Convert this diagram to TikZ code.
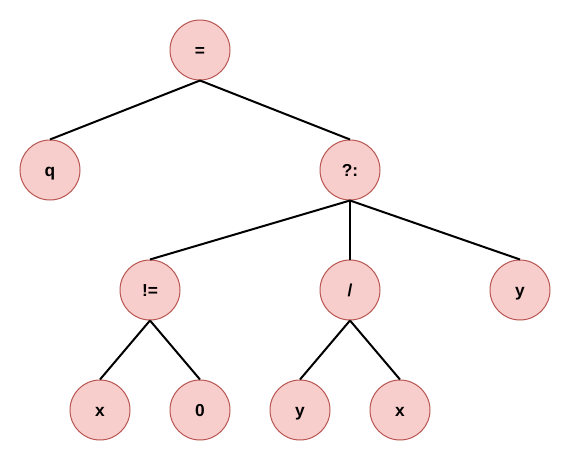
\documentclass[tikz,border=0pt]{standalone}
\usepackage{fontspec}
\setmainfont{Liberation Sans}
\definecolor{nfill}{HTML}{F8CECC}
\definecolor{nline}{HTML}{B85450}
\begin{document}
\begin{tikzpicture}[x=0.75pt,y=-0.75pt,
  tnode/.style={circle,draw=nline,fill=nfill,line width=0.75pt,minimum size=45pt,inner sep=0pt,
    text height=9.4pt,text depth=0pt,font=\fontsize{13}{15}\selectfont\bfseries},
  edge/.style={line width=1.5pt,black}]
\useasboundingbox (0,0) rectangle (572,461);
\node[tnode] (eq) at (200,50) {=};
\node[tnode] (q) at (50,170) {q};
\node[tnode] (cond) at (350,170) {?:};
\node[tnode] (ne) at (150,290) {!=};
\node[tnode] (div) at (350,290) {/};
\node[tnode] (y1) at (520,290) {y};
\node[tnode] (x1) at (100,410) {x};
\node[tnode] (zero) at (200,410) {0};
\node[tnode] (y2) at (300,410) {y};
\node[tnode] (x2) at (400,410) {x};
\draw[edge] (eq.south) -- (q.north);
\draw[edge] (eq.south) -- (cond.north);
\draw[edge] (cond.south) -- (ne.north);
\draw[edge] (cond.south) -- (div.north);
\draw[edge] (cond.south) -- (y1.north);
\draw[edge] (ne.south) -- (x1.north);
\draw[edge] (ne.south) -- (zero.north);
\draw[edge] (div.south) -- (y2.north);
\draw[edge] (div.south) -- (x2.north);
\end{tikzpicture}
\end{document}
